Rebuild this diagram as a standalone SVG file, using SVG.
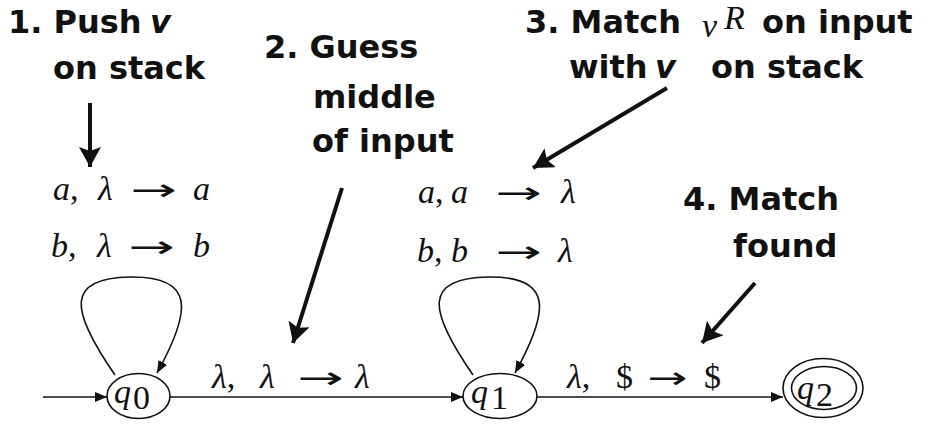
<svg xmlns="http://www.w3.org/2000/svg" width="929" height="425" viewBox="0 0 929 425">
<style>
.note{font-family:"DejaVu Sans",sans-serif;font-weight:bold;font-size:32px;fill:#111}
.m{font-family:"Liberation Serif","Times New Roman",serif;font-style:italic;font-size:34px;fill:#111}
.mu{font-family:"Liberation Serif","Times New Roman",serif;font-size:34px;fill:#111}
.ar{font-family:"DejaVu Sans",sans-serif;font-size:30px;fill:#111}
.st{fill:#fff;stroke:#111;stroke-width:1.6}
.e{fill:none;stroke:#111;stroke-width:1.6}
.p{fill:none;stroke:#111;stroke-width:4}
</style>
<defs>
<marker id="ah" viewBox="0 0 12 10" refX="12" refY="5" markerWidth="12" markerHeight="10" markerUnits="userSpaceOnUse" orient="auto"><path d="M0,0 L12,5 L0,10 z" fill="#111"/></marker>
<marker id="big" viewBox="0 0 20 22" refX="20" refY="11" markerWidth="20" markerHeight="22" markerUnits="userSpaceOnUse" orient="auto"><path d="M0,0 L20,11 L0,22 L4,11 z" fill="#111"/></marker>
</defs>
<rect width="929" height="425" fill="#fff"/>

<g id="notes">
<text class="note" x="8" y="33">1. Push</text>
<text class="note" x="150" y="33" font-style="italic">v</text>
<text class="note" x="53" y="79">on stack</text>
<text class="note" x="264" y="58">2. Guess</text>
<text class="note" x="313" y="108">middle</text>
<text class="note" x="312" y="152">of input</text>
<text class="note" x="525" y="33">3. Match</text>
<text class="m" x="702" y="37" font-size="38">v</text>
<text class="m" x="724" y="29" font-size="22">R</text>
<text class="note" x="762" y="33">on input</text>
<text class="note" x="569" y="78">with</text>
<text class="note" x="655" y="78" font-style="italic">v</text>
<text class="note" x="711" y="78">on stack</text>
<text class="note" x="683" y="210">4. Match</text>
<text class="note" x="733" y="257">found</text>
</g>

<g id="pointers">
<line class="p" x1="90" y1="103" x2="90" y2="167" marker-end="url(#big)"/>
<line class="p" x1="342" y1="188" x2="293" y2="343" marker-end="url(#big)"/>
<line class="p" x1="667" y1="88" x2="533" y2="168" marker-end="url(#big)"/>
<line class="p" x1="755" y1="283" x2="702" y2="343" marker-end="url(#big)"/>
</g>

<g id="connectors">
<line class="e" x1="43" y1="397" x2="107" y2="397" marker-end="url(#ah)"/>
<line class="e" x1="170" y1="397" x2="463" y2="397" marker-end="url(#ah)"/>
<line class="e" x1="537" y1="397" x2="783" y2="397" marker-end="url(#ah)"/>
<path class="e" d="M115,375 C70,310 65,278 130,277 C195,276 192,310 157,373" marker-end="url(#ah)"/>
<path class="e" d="M473,375 C428,310 423,278 488,277 C553,276 550,310 515,373" marker-end="url(#ah)"/>
</g>

<g id="labels">
<g id="lbl-q0loop">
<text class="m" x="53" y="200">a<tspan font-style="normal">,</tspan></text>
<text class="m" x="98" y="200">λ</text>
<text class="ar" transform="translate(130,200) scale(1.85,1)">→</text>
<text class="m" x="193" y="200">a</text>
<text class="m" x="51" y="257">b<tspan font-style="normal">,</tspan></text>
<text class="m" x="97" y="257">λ</text>
<text class="ar" transform="translate(128,257) scale(1.85,1)">→</text>
<text class="m" x="193" y="257">b</text>
</g>
<g id="lbl-q1loop">
<text class="m" x="418" y="203">a<tspan font-style="normal">,</tspan></text>
<text class="m" x="451" y="203">a</text>
<text class="ar" transform="translate(495,203) scale(1.85,1)">→</text>
<text class="m" x="561" y="203">λ</text>
<text class="m" x="417" y="262">b<tspan font-style="normal">,</tspan></text>
<text class="m" x="451" y="262">b</text>
<text class="ar" transform="translate(495,262) scale(1.85,1)">→</text>
<text class="m" x="558" y="262">λ</text>
</g>
<g id="lbl-q0q1">
<text class="m" x="212" y="388">λ<tspan font-style="normal">,</tspan></text>
<text class="m" x="260" y="388">λ</text>
<text class="ar" transform="translate(297,388) scale(1.85,1)">→</text>
<text class="m" x="355" y="388">λ</text>
</g>
<g id="lbl-q1q2">
<text class="m" x="567" y="388">λ<tspan font-style="normal">,</tspan></text>
<text class="mu" x="616" y="388">$</text>
<text class="ar" transform="translate(647,388) scale(1.6,1)">→</text>
<text class="mu" x="704" y="388">$</text>
</g>
</g>

<g id="q0">
<ellipse class="st" cx="138.5" cy="396" rx="31.5" ry="22.5"/>
<text class="m" x="114" y="403" font-size="34">q</text>
<text class="mu" x="133" y="409" font-size="26">0</text>
</g>
<g id="q1">
<ellipse class="st" cx="500" cy="396" rx="37" ry="22.5"/>
<text class="m" x="471" y="403" font-size="34">q</text>
<text class="mu" x="491" y="409" font-size="26">1</text>
</g>
<g id="q2">
<ellipse class="st" cx="823" cy="388" rx="40" ry="29.5"/>
<ellipse class="st" cx="824" cy="388" rx="32.5" ry="21.5"/>
<text class="m" x="797" y="399" font-size="34">q</text>
<text class="mu" x="816" y="406" font-size="26">2</text>
</g>
</svg>
